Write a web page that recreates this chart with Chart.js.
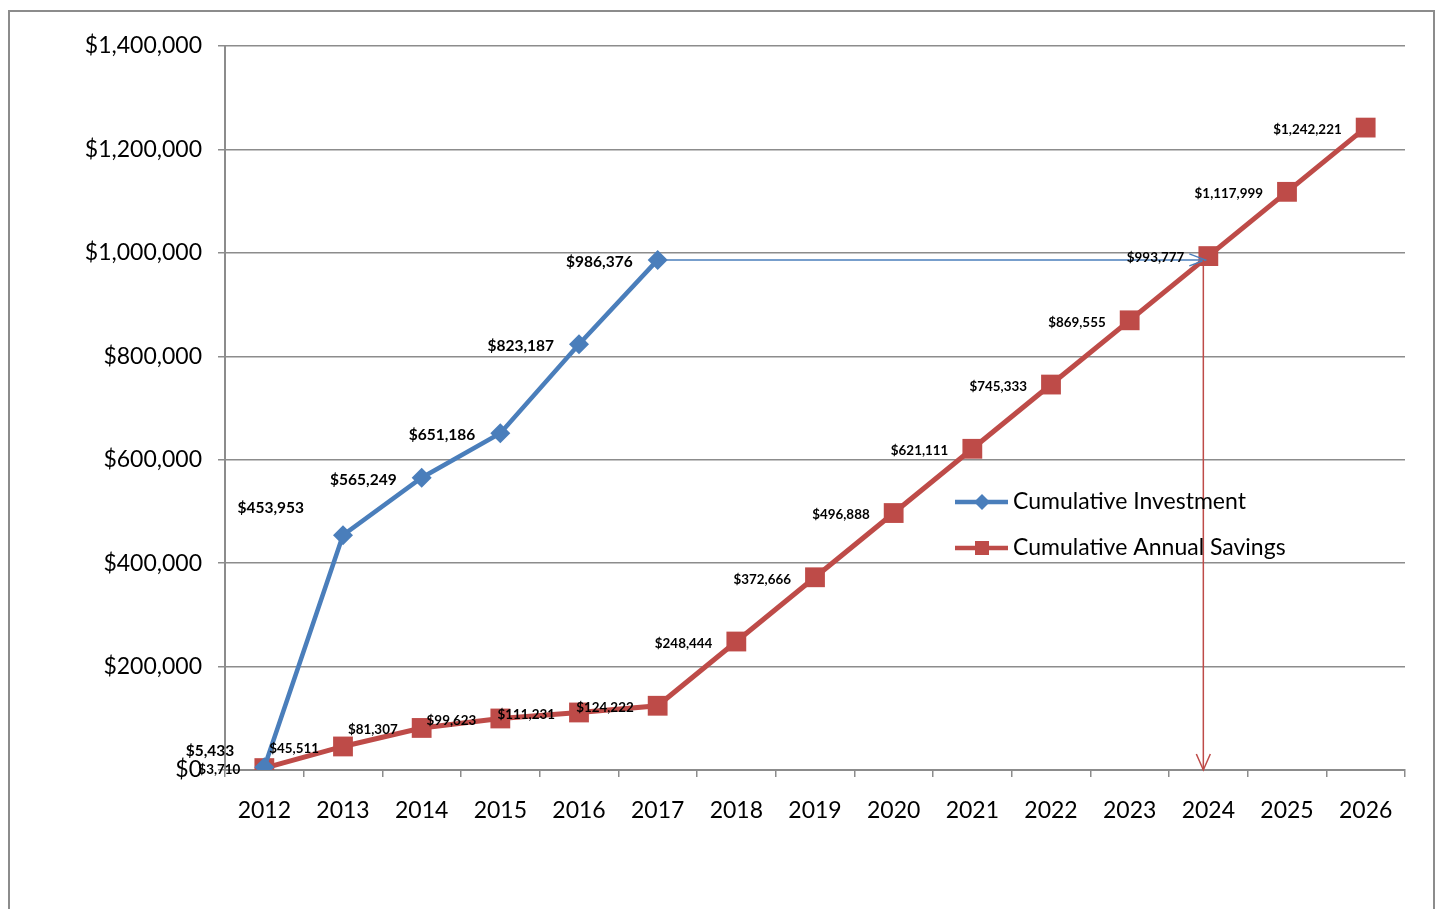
<!DOCTYPE html>
<html>
<head>
<meta charset="utf-8">
<script src="https://cdn.jsdelivr.net/npm/chart.js@4.4.0/dist/chart.umd.min.js"></script>
<style>
html,body{margin:0;padding:0;background:#fff;}
#wrap{width:1437px;height:909px;position:relative;}
</style>
</head>
<body>
<div id="wrap"><canvas id="c" width="1437" height="909"></canvas></div>
<script>
const categories = ['2012','2013','2014','2015','2016','2017','2018','2019','2020','2021','2022','2023','2024','2025','2026'];
const investment = [5433, 453953, 565249, 651186, 823187, 986376, null, null, null, null, null, null, null, null, null];
const savings = [3710, 45511, 81307, 99623, 111231, 124222, 248444, 372666, 496888, 621111, 745333, 869555, 993777, 1117999, 1242221];
const yTicks = [0, 200000, 400000, 600000, 800000, 1000000, 1200000, 1400000];
const seriesNames = ['Cumulative Investment', 'Cumulative Annual Savings'];
// payback arrows: from last investment point across to the break-even year, then down to zero
const paybackFromIndex = 5;
const paybackToIndex = 12;
const paybackValue = 986376;

const BLUE = '#4a7ebb';
const RED = '#be4b48';
const FONT = 'Lato, "Open Sans", sans-serif';

function money(v){ return '$' + Math.round(v).toLocaleString('en-US'); }

// manual label nudges (dx, dy in px) for labels that were moved in the original
const invLabelNudge = {0: [-5, -18], 1: [-14, -29]};

const overlay = {
  id: 'overlay',
  beforeDraw(chart){
    const ctx = chart.ctx;
    ctx.save();
    ctx.fillStyle = '#fff';
    ctx.fillRect(0,0,chart.width,chart.height);
    ctx.strokeStyle = '#8c8c8c';
    ctx.lineWidth = 2;
    ctx.strokeRect(9, 11, 1425, 920);
    ctx.restore();
  },
  afterDatasetsDraw(chart){
    const ctx = chart.ctx;
    const xs = chart.scales.x, ys = chart.scales.y;
    ctx.save();
    // horizontal blue arrow
    const x0 = xs.getPixelForValue(paybackFromIndex);
    const x1 = xs.getPixelForValue(paybackToIndex) - 3;
    const yA = ys.getPixelForValue(paybackValue);
    ctx.strokeStyle = BLUE; ctx.lineWidth = 1.5;
    ctx.beginPath(); ctx.moveTo(x0, yA); ctx.lineTo(x1, yA); ctx.stroke();
    ctx.beginPath(); ctx.moveTo(x1-16, yA-6); ctx.lineTo(x1, yA); ctx.lineTo(x1-16, yA+6); ctx.stroke();
    // vertical red arrow
    const xv = xs.getPixelForValue(paybackToIndex) - 5;
    const yB = ys.getPixelForValue(0);
    ctx.strokeStyle = RED; ctx.lineWidth = 1.5;
    ctx.beginPath(); ctx.moveTo(xv, yA); ctx.lineTo(xv, yB); ctx.stroke();
    ctx.beginPath(); ctx.moveTo(xv-7, yB-16); ctx.lineTo(xv, yB); ctx.lineTo(xv+7, yB-16); ctx.stroke();

    // data labels
    ctx.fillStyle = '#000';
    ctx.textAlign = 'right';
    ctx.textBaseline = 'middle';
    const m0 = chart.getDatasetMeta(0), m1 = chart.getDatasetMeta(1);
    ctx.font = 'bold 15.5px ' + FONT;
    m0.data.forEach((p, i) => {
      if (investment[i] == null) return;
      const n = invLabelNudge[i] || [0,0];
      ctx.fillText(money(investment[i]), p.x - 25 + n[0], p.y + 2 + n[1]);
    });
    ctx.font = 'bold 13.4px ' + FONT;
    m1.data.forEach((p, i) => {
      ctx.fillText(money(savings[i]), p.x - 24, p.y + 2);
    });

    // legend
    const lx = 955, ly = [502, 548];
    ctx.font = '23px ' + FONT;
    ctx.textAlign = 'left';
    [BLUE, RED].forEach((c, k) => {
      ctx.strokeStyle = c; ctx.lineWidth = 4.5;
      ctx.beginPath(); ctx.moveTo(lx, ly[k]); ctx.lineTo(lx+53, ly[k]); ctx.stroke();
      ctx.fillStyle = c;
      if (k === 0) {
        ctx.beginPath(); ctx.moveTo(982, ly[k]-8); ctx.lineTo(990, ly[k]); ctx.lineTo(982, ly[k]+8); ctx.lineTo(974, ly[k]); ctx.closePath(); ctx.fill();
      } else {
        ctx.fillRect(975, ly[k]-7, 14, 14);
      }
      ctx.fillStyle = '#000';
      ctx.fillText(seriesNames[k], lx + 58, ly[k]);
    });
    ctx.restore();
  }
};

new Chart(document.getElementById('c'), {
  type: 'line',
  data: {
    labels: categories,
    datasets: [
      { label: seriesNames[0], data: investment, borderColor: BLUE, backgroundColor: BLUE, borderWidth: 4.5,
        pointStyle: 'rectRot', pointRadius: 10, pointBorderWidth: 0, spanGaps: false, tension: 0 },
      { label: seriesNames[1], data: savings, borderColor: RED, backgroundColor: RED, borderWidth: 5,
        pointStyle: 'rect', pointRadius: 14, pointBorderWidth: 0, tension: 0 }
    ]
  },
  options: {
    responsive: false,
    animation: false,
    devicePixelRatio: 1,
    layout: { padding: { top: 46, right: 32, left: 0, bottom: 0 } },
    plugins: { legend: { display: false }, tooltip: { enabled: false } },
    scales: {
      x: {
        offset: true,
        grid: { offset: true, drawOnChartArea: false, drawTicks: true, tickLength: 7, color: '#8c8c8c', lineWidth: 1.5 },
        border: { color: '#8c8c8c', width: 2 },
        ticks: { color: '#000', font: { family: FONT, size: 23 }, padding: 20, maxRotation: 0, autoSkip: false },
        afterFit(s){ s.height = 909 - 770; }
      },
      y: {
        min: 0, max: 1400000,
        afterBuildTicks(s){ s.ticks = yTicks.map(v => ({value: v})); },
        grid: { color: '#8c8c8c', lineWidth: 1.5, tickLength: 7 },
        border: { color: '#8c8c8c', width: 2 },
        ticks: { color: '#000', font: { family: FONT, size: 23 }, padding: 16, callback: v => money(v) },
        afterFit(s){ s.width = 225; }
      }
    }
  },
  plugins: [overlay]
});
</script>
</body>
</html>
